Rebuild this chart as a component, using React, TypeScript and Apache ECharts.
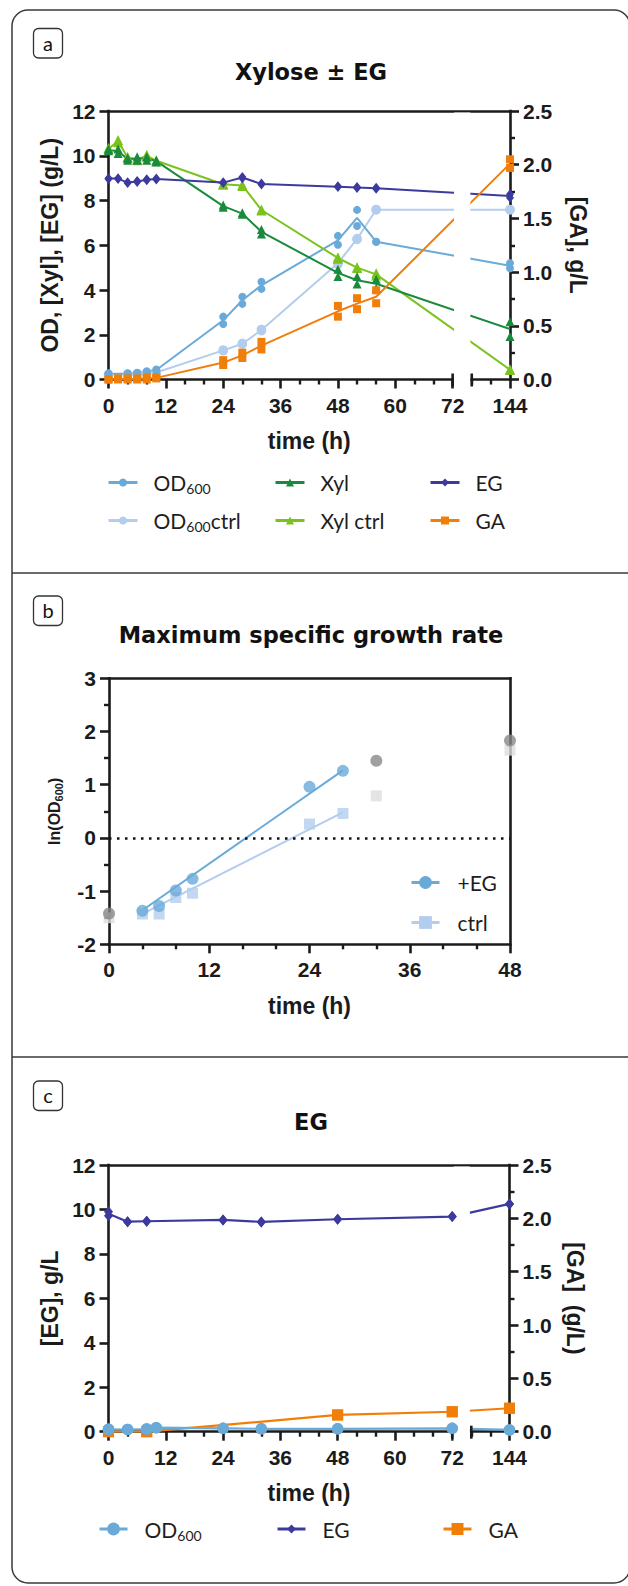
import React, { useEffect, useRef } from 'react';
import * as echarts from 'echarts';

const W = 628;
const H = 1586;

// ---------------- panel a : Xylose ± EG ----------------
const timeOD = [0, 4, 6, 8, 10, 24, 28, 32, 48, 52, 56, 144];
const odRep1 = [0.27, 0.28, 0.3, 0.37, 0.45, 2.81, 3.7, 4.37, 6.42, 7.58, 6.16, 5.2];
const odRep2 = [0.23, 0.26, 0.28, 0.35, 0.4, 2.48, 3.38, 4.05, 6.02, 6.86, 6.16, 4.97];
const odCtrlRep1 = [0.23, 0.24, 0.26, 0.3, 0.32, 1.32, 1.62, 2.24, 5.25, 6.3, 7.6, 7.6];
const odCtrlRep2 = [0.21, 0.22, 0.24, 0.28, 0.3, 1.28, 1.58, 2.18, 5.15, 6.26, 7.58, 7.58];

const timeA = [0, 2, 4, 6, 8, 10, 24, 28, 32, 48, 52, 56, 144];
const xylRep1 = [10.3, 10.3, 9.9, 9.95, 9.95, 9.8, 7.8, 7.45, 6.7, 4.93, 4.6, 4.48, 2.58];
const xylRep2 = [10.22, 10.1, 9.8, 9.8, 9.8, 9.72, 7.7, 7.38, 6.5, 4.6, 4.27, 4.08, 1.92];
const xylCtrlRep1 = [10.35, 10.7, 9.95, 9.85, 10.05, 9.8, 8.75, 8.7, 7.6, 5.46, 5.02, 4.75, 0.46];
const xylCtrlRep2 = [10.28, 10.6, 9.9, 9.8, 9.95, 9.75, 8.7, 8.65, 7.55, 5.4, 4.98, 4.65, 0.42];
const egRep1 = [9.0, 9.0, 8.82, 8.87, 8.95, 8.98, 8.82, 9.05, 8.76, 8.64, 8.6, 8.57, 8.28];
const egRep2 = [8.96, 8.96, 8.78, 8.83, 8.91, 8.94, 8.78, 9.0, 8.72, 8.6, 8.56, 8.53, 8.12];
const gaRep1 = [0.0, 0.01, 0.01, 0.01, 0.02, 0.02, 0.18, 0.25, 0.35, 0.685, 0.757, 0.83, 2.05];
const gaRep2 = [0.0, 0.0, 0.0, 0.0, 0.0, 0.01, 0.135, 0.2, 0.28, 0.585, 0.655, 0.71, 1.97];

// ---------------- panel b : maximum specific growth rate ----------------
const timeB = [4, 6, 8, 10, 24, 28];
const lnEG = [-1.37, -1.28, -0.99, -0.77, 0.96, 1.26];
const lnCtrl = [-1.43, -1.43, -1.12, -1.04, 0.26, 0.46];
const fitTime = [4, 28];
const fitEG = [-1.36, 1.27];
const fitCtrl = [-1.43, 0.48];
const timeOut = [0, 32, 48];
const lnEGOut = [-1.42, 1.45, 1.83];
const lnCtrlOut = [-1.5, 0.79, 1.65];

// ---------------- panel c : EG ----------------
const timeC = [0, 4, 8, 10, 24, 32, 48, 72, 144];
const odC = [0.11, 0.1, 0.12, 0.18, 0.15, 0.13, 0.13, 0.15, 0.08];
const timeEGc = [0, 4, 8, 24, 32, 48, 72, 144];
const egC1 = [9.9, 9.45, 9.47, 9.53, 9.44, 9.56, 9.68, 10.25];
const egC2 = [9.72, 9.45, 9.47, 9.53, 9.44, 9.56, 9.68, 10.25];
const timeGAc = [0, 8, 48, 72, 144];
const gaC = [0.0, 0.0, 0.157, 0.187, 0.22];

// broken time axis: 0..72 continuous, then gap, then 136..144
const BREAK_AT = 72;
const BREAK_SHIFT = 60;
const bx = (t: number) => (t > BREAK_AT ? t - BREAK_SHIFT : t);
const X_MAX = bx(144);

const C = {
  od: '#6aaad9',
  odCtrl: '#b3cdee',
  xyl: '#1a8a3c',
  xylCtrl: '#7ac31c',
  eg: '#3d3a9e',
  ga: '#f27e0a',
  grayDark: '#8b8886',
  grayLight: '#dedddc',
};

const AX = '#1b1b1b';
const TICK_FONT = { fontFamily: 'Liberation Sans', fontWeight: 'bold' as const, fontSize: 21, color: AX };
const NAME_FONT = { fontFamily: 'Liberation Sans', fontWeight: 'bold' as const, fontSize: 23, color: AX };
const axLine = { show: true, onZero: false, lineStyle: { color: AX, width: 2.6, cap: 'square' as const } };
const tick = { show: true, length: 9, lineStyle: { color: AX, width: 2.6 } };
const minor = (n: number) => ({ show: true, splitNumber: n, length: 5, lineStyle: { color: AX, width: 2.4 } });
const noSplit = { show: false };

const pairs = (ts: number[], vs: number[], fx = (t: number) => t) => ts.map((t, i) => [fx(t), vs[i]]);
const meanOf = (a: number[], b: number[]) => a.map((v, i) => (v + b[i]) / 2);

function lineWithReps(
  name: string, color: string, symbol: string, size: any,
  ts: number[], r1: number[], r2: number[], xi: number, yi: number, z = 10, lw = 2,
) {
  return [
    {
      type: 'line', name, xAxisIndex: xi, yAxisIndex: yi, data: pairs(ts, meanOf(r1, r2), bx),
      showSymbol: false, symbol, symbolSize: size, color, lineStyle: { width: lw, color }, itemStyle: { color }, z: 2, silent: true,
    },
    {
      type: 'scatter', name, xAxisIndex: xi, yAxisIndex: yi,
      data: [...pairs(ts, r1, bx), ...pairs(ts, r2, bx)],
      symbol, symbolSize: size, itemStyle: { color, opacity: 1 }, z, silent: true,
    },
  ];
}

const legendRich = {
  m: { fontFamily: 'Lato', fontSize: 21, color: '#1e1e1e', lineHeight: 26 },
  s: { fontFamily: 'Lato', fontSize: 14, color: '#1e1e1e', lineHeight: 16, verticalAlign: 'bottom' },
};
const legendFmt = (name: string) => {
  if (name.startsWith('OD600')) {
    const rest = name.slice(5);
    return rest ? `{m|OD}{s|600}{m|${rest}}` : '{m|OD}{s|600}';
  }
  return `{m|${name}}`;
};
function leg(name: string, left: number, centerY: number, itemHeight: number, itemWidth = 29, gap = 11) {
  return {
    data: [name], left, top: centerY - 13, orient: 'horizontal', padding: 0,
    itemWidth, itemHeight, selectedMode: false,
    lineStyle: { width: 3 },
    formatter: legendFmt,
    textStyle: { padding: [0, 0, 0, gap], rich: legendRich },
  };
}

function xBroken(gi: number) {
  return {
    gridIndex: gi, type: 'value', position: 'bottom', min: 0, max: X_MAX, interval: 12,
    axisLine: axLine, axisTick: tick, minorTick: minor(3), splitLine: noSplit, minorSplitLine: noSplit,
    axisLabel: { ...TICK_FONT, margin: 15, formatter: (v: number) => String(v > BREAK_AT ? v + BREAK_SHIFT : v) },
    name: 'time (h)', nameLocation: 'middle', nameGap: 50, nameTextStyle: NAME_FONT,
  };
}
function xTop(gi: number, max: number) {
  return {
    gridIndex: gi, type: 'value', position: 'top', min: 0, max,
    axisLine: axLine, axisTick: { show: false }, axisLabel: { show: false }, splitLine: noSplit,
  };
}

function buildOption() {
  const series: any[] = [
    // panel a
    ...lineWithReps('OD600ctrl', C.odCtrl, 'circle', 9.5, timeOD, odCtrlRep1, odCtrlRep2, 0, 0, 9),
    ...lineWithReps('OD600', C.od, 'circle', 8, timeOD, odRep1, odRep2, 0, 0, 10),
    ...lineWithReps('Xyl ctrl', C.xylCtrl, 'triangle', 10, timeA, xylCtrlRep1, xylCtrlRep2, 0, 0, 9),
    ...lineWithReps('Xyl', C.xyl, 'triangle', 9, timeA, xylRep1, xylRep2, 0, 0, 10),
    ...lineWithReps('EG', C.eg, 'diamond', [8, 10], timeA, egRep1, egRep2, 0, 0, 10),
    ...lineWithReps('GA', C.ga, 'rect', 8, timeA, gaRep1, gaRep2, 0, 1, 11),
    // panel b
    {
      type: 'line', name: '+EG', xAxisIndex: 2, yAxisIndex: 2, data: pairs(fitTime, fitEG),
      showSymbol: false, symbol: 'circle', color: C.od, lineStyle: { width: 2, color: C.od }, z: 3, silent: true,
      markLine: {
        silent: true, symbol: 'none', label: { show: false },
        lineStyle: { type: [2.5, 5.5], width: 2.5, color: '#111' },
        data: [{ yAxis: 0 }],
      },
    },
    {
      type: 'line', name: 'ctrl', xAxisIndex: 2, yAxisIndex: 2, data: pairs(fitTime, fitCtrl),
      showSymbol: false, symbol: 'rect', color: C.odCtrl, lineStyle: { width: 2, color: C.odCtrl }, z: 2, silent: true,
    },
    {
      type: 'scatter', name: 'ctrl', xAxisIndex: 2, yAxisIndex: 2, data: pairs(timeB, lnCtrl),
      symbol: 'rect', symbolSize: 11, itemStyle: { color: C.odCtrl }, z: 9, silent: true,
    },
    {
      type: 'scatter', name: '+EG', xAxisIndex: 2, yAxisIndex: 2, data: pairs(timeB, lnEG),
      symbol: 'circle', symbolSize: 12, itemStyle: { color: C.od }, z: 10, silent: true,
    },
    {
      type: 'scatter', name: 'ctrl excluded', xAxisIndex: 2, yAxisIndex: 2, data: pairs(timeOut, lnCtrlOut),
      symbol: 'rect', symbolSize: 11, itemStyle: { color: C.grayLight }, z: 9, silent: true,
    },
    {
      type: 'scatter', name: '+EG excluded', xAxisIndex: 2, yAxisIndex: 2, data: pairs(timeOut, lnEGOut),
      symbol: 'circle', symbolSize: 12, itemStyle: { color: C.grayDark }, z: 10, silent: true,
    },
    // panel c
    ...lineWithReps('GA', C.ga, 'rect', 11, timeGAc, gaC, gaC, 4, 5, 9, 2.2),
    ...lineWithReps('EG', C.eg, 'diamond', [9, 11], timeEGc, egC1, egC2, 4, 4, 10, 2.2),
    ...lineWithReps('OD600', C.od, 'circle', 11.5, timeC, odC, odC, 4, 4, 11, 2.2),
  ];

  return {
    animation: false,
    backgroundColor: '#fff',
    grid: [
      { left: 108.5, top: 111, width: 401.5, height: 268.5 },
      { left: 109, top: 678.3, width: 401, height: 266 },
      { left: 108.5, top: 1165, width: 401, height: 266.7 },
    ],
    xAxis: [
      xBroken(0), xTop(0, X_MAX),
      {
        gridIndex: 1, type: 'value', position: 'bottom', min: 0, max: 48, interval: 12,
        axisLine: axLine, axisTick: tick, minorTick: minor(3), splitLine: noSplit, minorSplitLine: noSplit,
        axisLabel: { ...TICK_FONT, margin: 15 },
        name: 'time (h)', nameLocation: 'middle', nameGap: 50, nameTextStyle: NAME_FONT,
      },
      xTop(1, 48),
      xBroken(2), xTop(2, X_MAX),
    ],
    yAxis: [
      {
        gridIndex: 0, type: 'value', position: 'left', min: 0, max: 12, interval: 2,
        axisLine: axLine, axisTick: tick, splitLine: noSplit,
        axisLabel: { ...TICK_FONT, margin: 13 },
        name: 'OD, [Xyl], [EG] (g/L)', nameLocation: 'middle', nameGap: 43, nameRotate: 90, nameTextStyle: NAME_FONT,
      },
      {
        gridIndex: 0, type: 'value', position: 'right', min: 0, max: 2.5, interval: 0.5,
        axisLine: axLine, axisTick: tick, minorTick: minor(2), splitLine: noSplit, minorSplitLine: noSplit,
        axisLabel: { ...TICK_FONT, margin: 13, formatter: (v: number) => v.toFixed(1) },
        name: '[GA], g/L', nameLocation: 'middle', nameGap: 56, nameRotate: -90, nameTextStyle: NAME_FONT,
      },
      {
        gridIndex: 1, type: 'value', position: 'left', min: -2, max: 3, interval: 1,
        axisLine: axLine, axisTick: tick, minorTick: minor(2), splitLine: noSplit, minorSplitLine: noSplit,
        axisLabel: { ...TICK_FONT, margin: 13 },
        name: '{m|ln(OD}{s|600}{m|)}', nameLocation: 'middle', nameGap: 45, nameRotate: 90,
        nameTextStyle: {
          rich: {
            m: { fontFamily: 'Liberation Sans', fontWeight: 'bold', fontSize: 16, lineHeight: 20, color: AX },
            s: { fontFamily: 'Liberation Sans', fontWeight: 'bold', fontSize: 11, lineHeight: 12, verticalAlign: 'bottom', color: AX },
          },
        },
      },
      {
        gridIndex: 1, type: 'value', position: 'right', min: -2, max: 3,
        axisLine: axLine, axisTick: { show: false }, axisLabel: { show: false }, splitLine: noSplit,
      },
      {
        gridIndex: 2, type: 'value', position: 'left', min: 0, max: 12, interval: 2,
        axisLine: axLine, axisTick: tick, splitLine: noSplit,
        axisLabel: { ...TICK_FONT, margin: 13 },
        name: '[EG], g/L', nameLocation: 'middle', nameGap: 43, nameRotate: 90, nameTextStyle: NAME_FONT,
      },
      {
        gridIndex: 2, type: 'value', position: 'right', min: 0, max: 2.5, interval: 0.5,
        axisLine: axLine, axisTick: tick, minorTick: minor(2), splitLine: noSplit, minorSplitLine: noSplit,
        axisLabel: { ...TICK_FONT, margin: 13, formatter: (v: number) => v.toFixed(1) },
        name: '[GA]  (g/L)', nameLocation: 'middle', nameGap: 54, nameRotate: -90, nameTextStyle: NAME_FONT,
      },
    ],
    legend: [
      leg('OD600', 107, 485, 10),
      leg('OD600ctrl', 107, 523, 10),
      leg('Xyl', 274, 485, 10),
      leg('Xyl ctrl', 274, 523, 10),
      leg('EG', 429, 485, 10),
      leg('GA', 429, 523, 10),
      leg('+EG', 410, 885, 16, 28, 13),
      leg('ctrl', 410, 925, 16, 28, 13),
      leg('OD600', 98, 1531.5, 16, 28, 12),
      leg('EG', 276, 1531.5, 11, 28, 12),
      leg('GA', 442, 1531.5, 15, 28, 12),
    ],
    series,
  };
}

function txt(text: string, x: number, y: number, font: string, z = 20) {
  return {
    type: 'text', z, silent: true,
    style: {
      text, x, y, font, fill: '#111',
      align: 'center', verticalAlign: 'middle', textAlign: 'center', textVerticalAlign: 'middle',
    },
  };
}

function buildGraphic(chart: any) {
  const px = (xi: number, v: number) => chart.convertToPixel({ xAxisIndex: xi }, v) as number;
  const py = (yi: number, v: number) => chart.convertToPixel({ yAxisIndex: yi }, v) as number;
  const els: any[] = [];
  // outer frame and separators
  els.push({
    type: 'rect', z: 0, silent: true,
    shape: { x: 12, y: 10, width: 618, height: 1573, r: 16 },
    style: { fill: 'none', stroke: '#3a3a3a', lineWidth: 1.5 },
  });
  [573, 1057].forEach((y) =>
    els.push({
      type: 'line', z: 0, silent: true, shape: { x1: 12, y1: y, x2: 630, y2: y },
      style: { stroke: '#3a3a3a', lineWidth: 1.5 },
    }),
  );
  // panel tags
  const tags: [string, number][] = [['a', 28.5], ['b', 596], ['c', 1081]];
  tags.forEach(([t, y]) => {
    els.push({
      type: 'rect', z: 1, silent: true, shape: { x: 33.5, y, width: 29, height: 29.5, r: 5 },
      style: { fill: '#fff', stroke: '#333', lineWidth: 1.3 },
    });
    els.push(txt(t, 48, y + 14, '20px Lato'));
  });
  // titles
  els.push(txt('Xylose ± EG', 311, 72, 'bold 22.5px "DejaVu Sans"'));
  els.push(txt('Maximum specific growth rate', 311, 635, 'bold 22.5px "DejaVu Sans"'));
  els.push(txt('EG', 311, 1122, 'bold 22.5px "DejaVu Sans"'));
  // axis breaks
  [[0, 0], [4, 4]].forEach(([xi, yi]) => {
    const x1 = px(xi, BREAK_AT);
    const x2 = px(xi, BREAK_AT + 4);
    const top = py(yi, 12);
    const bot = py(yi, 0);
    els.push({
      type: 'rect', z: 5, silent: true,
      shape: { x: x1 + 1.4, y: top + 1.5, width: x2 - x1 - 2.8, height: bot - top + 10 },
      style: { fill: '#fff' },
    });
    [x1, x2].forEach((x) =>
      els.push({
        type: 'line', z: 6, silent: true, shape: { x1: x, y1: bot - 6, x2: x, y2: bot + 7 },
        style: { stroke: AX, lineWidth: 2.6 },
      }),
    );
  });
  return els;
}

export default function App() {
  const ref = useRef<HTMLDivElement>(null);
  useEffect(() => {
    const el = ref.current!;
    const chart = echarts.init(el, undefined, { renderer: 'svg', width: W, height: H });
    chart.setOption(buildOption() as any);
    chart.setOption({ graphic: buildGraphic(chart) } as any);
    return () => chart.dispose();
  }, []);
  return (
    <div
      ref={ref}
      style={{ position: 'absolute', left: 0, top: 0, width: W, height: H, background: '#fff' }}
    />
  );
}
